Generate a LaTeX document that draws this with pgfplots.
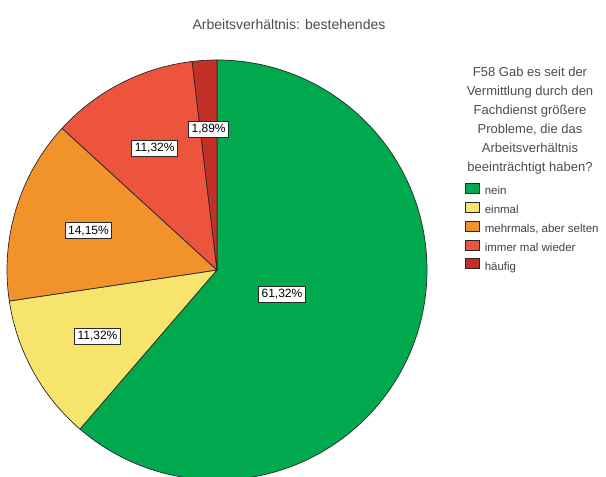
\documentclass[border=0pt]{standalone}
\usepackage{pgfplots}
\pgfplotsset{compat=1.18}
\usepackage{pgfplotstable}
\usepackage{fontspec}
\setmainfont{Liberation Sans}

\definecolor{cgreen}{RGB}{0,168,78}
\definecolor{cyellow}{RGB}{246,228,108}
\definecolor{corange}{RGB}{241,146,42}
\definecolor{cred}{RGB}{236,84,62}
\definecolor{cdred}{RGB}{196,48,40}
\definecolor{cline}{RGB}{40,40,40}

% value (%), slice colour, label distance as fraction of the radius
\pgfplotstableread{
value color lf
61.32 cgreen 0.33
11.32 cyellow 0.65
14.15 corange 0.64
11.32 cred 0.65
1.89 cdred 0.67
}\piedata

\begin{document}
\begin{tikzpicture}
\begin{axis}[
  scale only axis, width=606bp, height=477bp,
  xmin=0, xmax=606, ymin=0, ymax=477,
  hide axis, clip=false,
  legend style={at={(axis cs:465,294)}, anchor=north west, draw=none, fill=none,
    inner sep=0pt, row sep=4.5bp,
    font=\fontsize{11.5bp}{13bp}\selectfont,
    nodes={inner sep=0pt, text height=8.5bp, text depth=2.5bp, text=black!75},
    /tikz/every odd column/.append style={column sep=5bp}},
  legend cell align=left,
]
\addlegendimage{legend image code/.code={\draw[fill=cgreen,draw=cline,line width=0.6bp] (0bp,-1.5bp) rectangle (14bp,8.5bp);}}
\addlegendentry{nein}
\addlegendimage{legend image code/.code={\draw[fill=cyellow,draw=cline,line width=0.6bp] (0bp,-1.5bp) rectangle (14bp,8.5bp);}}
\addlegendentry{einmal}
\addlegendimage{legend image code/.code={\draw[fill=corange,draw=cline,line width=0.6bp] (0bp,-1.5bp) rectangle (14bp,8.5bp);}}
\addlegendentry{mehrmals, aber selten}
\addlegendimage{legend image code/.code={\draw[fill=cred,draw=cline,line width=0.6bp] (0bp,-1.5bp) rectangle (14bp,8.5bp);}}
\addlegendentry{immer mal wieder}
\addlegendimage{legend image code/.code={\draw[fill=cdred,draw=cline,line width=0.6bp] (0bp,-1.5bp) rectangle (14bp,8.5bp);}}
\addlegendentry{häufig}

\pgfplotsextra{
  \gdef\startang{90}
  \foreach \i in {0,...,4}{
    \pgfplotstablegetelem{\i}{value}\of\piedata
    \pgfmathsetmacro{\val}{\pgfplotsretval}
    \pgfplotstablegetelem{\i}{color}\of\piedata
    \edef\col{\pgfplotsretval}
    \pgfmathsetmacro{\endang}{\startang-3.6*\val}
    \fill[fill=\col, draw=cline, line width=0.7bp, line join=round]
      (axis cs:217,207) -- ++(\startang:210bp)
      arc[start angle=\startang, end angle=\endang, radius=210bp] -- cycle;
    \xdef\startang{\endang}
  }
  \gdef\startang{90}
  \foreach \i in {0,...,4}{
    \pgfplotstablegetelem{\i}{value}\of\piedata
    \pgfmathsetmacro{\val}{\pgfplotsretval}
    \pgfplotstablegetelem{\i}{lf}\of\piedata
    \pgfmathsetmacro{\rr}{\pgfplotsretval*210}
    \pgfmathsetmacro{\endang}{\startang-3.6*\val}
    \pgfmathsetmacro{\midang}{(\startang+\endang)/2}
    \path (axis cs:217,207) ++(\midang:\rr bp)
      node[draw=cline, fill=white, line width=0.7bp, inner xsep=3bp, inner ysep=3bp,
           font=\fontsize{12bp}{14bp}\selectfont]
      {\pgfmathprintnumber[assume math mode=true,fixed,fixed zerofill,precision=2,use comma]{\val}\%};
    \xdef\startang{\endang}
  }
}
\end{axis}

\node[anchor=base, font=\fontsize{14bp}{16bp}\selectfont, text=black!70] at (289bp,447bp) {Arbeitsverhältnis: bestehendes};

\foreach \t [count=\kk from 0] in {F58 Gab es seit der, Vermittlung durch den, Fachdienst größere, {Probleme, die das}, Arbeitsverhältnis, beeinträchtigt haben?}{
  \node[anchor=base, font=\fontsize{13bp}{15bp}\selectfont, text=black!70] at (530bp,{(400.5-19*\kk)*1bp}) {\t};
}

\pgfresetboundingbox
\path (0,0) rectangle (606bp,477bp);
\end{tikzpicture}
\end{document}
